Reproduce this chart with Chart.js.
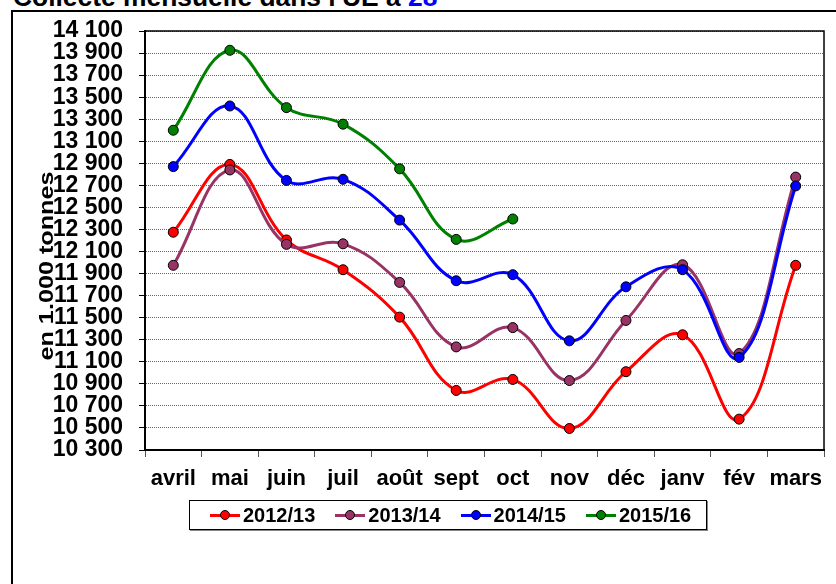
<!DOCTYPE html>
<html>
<head>
<meta charset="utf-8">
<script src="https://cdn.jsdelivr.net/npm/chart.js@4/dist/chart.umd.min.js"></script>
<style>
    body { margin: 0; background: #fff; }
    #wrap { position: relative; width: 836px; height: 584px; overflow: hidden; font-family: "Liberation Sans", Arial, sans-serif; }
    #title { position: absolute; left: 13px; top: -16px; font-weight: bold; font-size: 26.4px; line-height: 26px; white-space: nowrap; }
    #title span { color: #0000ff; }
    #frame { position: absolute; left: 11px; top: 10px; width: 900px; height: 700px; border-left: 2px solid #000; border-top: 2px solid #000; }
    #chart { position: absolute; left: 0; top: 0; }
    #legend { position: absolute; left: 189px; top: 500px; width: 518px; height: 30px; border: 1px solid #000; box-shadow: 1px 1px 0 #888; background: #fff; display: flex; align-items: center; padding-left: 20px; box-sizing: border-box; }
    .item { display: flex; align-items: center; margin-right: 20px; font-weight: bold; font-size: 20px; }
    .item:last-child { margin-right: 0; }
    .mark { position: relative; width: 30px; height: 3px; margin-right: 3px; }
    .mark i { position: absolute; left: 10px; top: -4px; width: 10px; height: 10px; border-radius: 50%; border: 1px solid #000; box-sizing: border-box; }
</style>
</head>
<body>
<div id="wrap">
    <div id="frame"></div>
    <div id="title">Collecte mensuelle dans l'UE à <span>28</span></div>
    <canvas id="chart" width="836" height="584"></canvas>
    <div id="legend"></div>
</div>
<script>
    // mois de la campagne
    const months = ['avril', 'mai', 'juin', 'juil', 'août', 'sept', 'oct', 'nov', 'déc', 'janv', 'fév', 'mars'];
    const seriesNames = ['2012/13', '2013/14', '2014/15', '2015/16'];
    const seriesColors = ['#ff0000', '#993366', '#0000ff', '#008000'];

    // collecte en 1.000 tonnes
    const c2012 = [12275, 12890, 12205, 11935, 11505, 10840, 10940, 10495, 11010, 11345, 10580, 11975];
    const c2013 = [11975, 12840, 12165, 12170, 11820, 11235, 11410, 10930, 11475, 11980, 11175, 12775];
    const c2014 = [12870, 13420, 12745, 12755, 12385, 11835, 11890, 11290, 11780, 11935, 11140, 12695];
    const c2015 = [13200, 13925, 13405, 13255, 12850, 12210, 12395, null, null, null, null, null];

    const yMin = 10300, yMax = 14100, yStep = 200;

    const allSeries = [c2012, c2013, c2014, c2015];

    function fmt(v) {
        const k = Math.floor(v / 1000);
        return k + ' ' + String(v % 1000).padStart(3, '0');
    }

    // cadre autour de la zone du graphique
    const frameBox = {
        id: 'frameBox',
        beforeDatasetsDraw(chart) {
            const a = chart.chartArea, ctx = chart.ctx;
            ctx.save();
            ctx.strokeStyle = '#000';
            ctx.lineWidth = 1.5;
            ctx.strokeRect(a.left, a.top, a.right - a.left, a.bottom - a.top);
            ctx.restore();
        }
    };

    // titre vertical, posé sur les étiquettes comme dans Excel
    const yTitle = {
        id: 'yTitle',
        afterDraw(chart) {
            const ctx = chart.ctx;
            ctx.save();
            ctx.translate(53, 266);
            ctx.rotate(-Math.PI / 2);
            ctx.scale(1.2, 1);
            ctx.font = 'bold 21px "Liberation Sans", Arial';
            ctx.fillStyle = '#000';
            ctx.textAlign = 'center';
            ctx.textBaseline = 'alphabetic';
            ctx.fillText('en 1.000 tonnes', 0, 0);
            ctx.restore();
        }
    };

    const datasets = allSeries.map((s, i) => ({
        label: seriesNames[i],
        data: s,
        borderColor: seriesColors[i],
        backgroundColor: seriesColors[i],
        pointBackgroundColor: seriesColors[i],
        pointBorderColor: '#000',
        pointBorderWidth: 1,
        pointRadius: 5,
        borderWidth: 3,
        tension: 0.4,
        fill: false,
        spanGaps: false,
        order: 4 - i
    }));

    new Chart(document.getElementById('chart'), {
        type: 'line',
        data: { labels: months, datasets: datasets },
        options: {
            responsive: false,
            animation: false,
            devicePixelRatio: 1,
            layout: { padding: { left: 0, top: 31, right: 12, bottom: 0 } },
            plugins: { legend: { display: false }, tooltip: { enabled: false } },
            scales: {
                x: {
                    offset: true,
                    grid: { offset: true, drawOnChartArea: false, drawTicks: true, tickLength: 7, tickColor: '#555' },
                    border: { display: true, color: '#000', width: 2 },
                    ticks: { color: '#000', font: { family: '"Liberation Sans", Arial', size: 22, weight: 'bold' }, padding: 9, maxRotation: 0, autoSkip: false },
                    afterFit: s => { s.height = 134; }
                },
                y: {
                    min: yMin,
                    max: yMax,
                    grid: { color: 'rgba(0,0,0,0.6)', lineWidth: 1, tickColor: '#000', tickLength: 6, tickBorderDash: [] },
                    border: { display: true, color: '#000', width: 2, dash: [1, 1] },
                    ticks: { stepSize: yStep, autoSkip: false, color: '#000', padding: 16, font: { family: '"Liberation Sans", Arial', size: 23, weight: 'bold' }, callback: v => fmt(v) },
                    afterFit: s => { s.width = 145; }
                }
            }
        },
        plugins: [frameBox, yTitle]
    });

    // légende encadrée sous l'axe
    const legend = document.getElementById('legend');
    legend.innerHTML = seriesNames.map((n, i) =>
        `<div class="item"><div class="mark" style="background:${seriesColors[i]}"><i style="background:${seriesColors[i]}"></i></div>${n}</div>`
    ).join('');
</script>
</body>
</html>
